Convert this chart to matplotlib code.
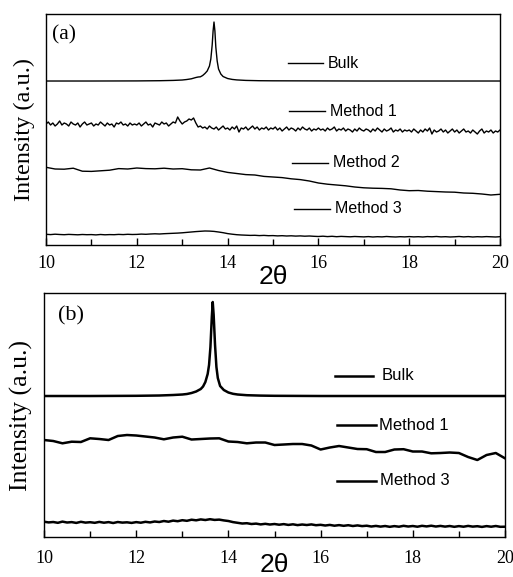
import matplotlib
matplotlib.use("Agg")
import matplotlib.pyplot as plt
import numpy as np

plt.rcParams["font.family"] = "Liberation Serif"

# ---------- panel (a) data (intensity in arbitrary units) ----------
bulk_a_x = [10, 11, 12, 12.5, 12.8, 13.0, 13.1, 13.2, 13.3, 13.35, 13.4, 13.45, 13.5, 13.55,
            13.6, 13.63, 13.66, 13.68, 13.7, 13.72, 13.74, 13.77, 13.8, 13.85, 13.9, 14.0,
            14.1, 14.2, 14.4, 14.7, 15, 16, 17, 18, 19, 20]
bulk_a_y = [164, 164, 164.1, 164.3, 164.6, 165.0, 165.5, 166.2, 167.5, 168.0, 168.2, 169.5,
            171.5, 174, 179, 186, 200, 214, 223, 214, 198, 184, 176, 171, 168.5, 166.5,
            165.6, 165.1, 164.6, 164.3, 164.2, 164.1, 164, 164, 164, 164]

m1_a_x = np.round(np.arange(10, 20.001, 0.05), 2)
m1_a_y = [121, 123, 120, 122, 119, 121, 124, 120, 122, 121, 119, 123, 121, 120, 122, 118, 121, 123, 120, 121,
          122, 119, 121, 120, 123, 121, 119, 122, 120, 121, 118, 122, 121, 123, 120, 121, 119, 122, 120, 121,
          120, 122, 119, 121, 123, 120, 121, 118, 122, 121, 120, 123, 121, 122, 119, 121, 123, 122, 128, 124,
          121, 123, 124, 126, 125, 127, 122, 118, 119, 117, 118, 116, 119, 117, 116, 118, 115, 117, 119, 116,
          117, 115, 118, 116, 119, 113, 117, 116, 118, 115, 117, 119, 116, 118, 115, 117, 116, 118, 115, 117,
          116, 118, 115, 117, 114, 116, 118, 115, 117, 116, 114, 117, 115, 118, 116, 115, 117, 114, 116, 115,
          117, 115, 116, 114, 117, 115, 116, 118, 114, 116, 115, 117, 114, 116, 115, 113, 116, 114, 117, 115,
          114, 116, 115, 113, 116, 114, 117, 115, 113, 116, 114, 115, 117, 113, 115, 114, 116, 113, 115, 114,
          115, 113, 116, 114, 112, 115, 113, 116, 114, 117, 111, 115, 113, 114, 116, 113, 115, 112, 114, 116,
          113, 115, 112, 114, 116, 113, 114, 112, 115, 113, 111, 114, 116, 112, 114, 113, 115, 112, 114, 113,
          115]

m2_a_x = np.round(np.arange(10, 20.001, 0.2), 1)
m2_a_y = [77.7, 76.0, 75.8, 76.8, 73.8, 73.6, 74.2, 74.8, 76.4, 76.0,
          77.0, 76.4, 76.2, 76.8, 76.0, 76.3, 75.2, 75.0, 77.0, 74.5,
          72.6, 71.5, 70.4, 70.0, 68.6, 68.0, 67.4, 66.2, 65.4, 64.0,
          62.0, 60.8, 60.0, 59.2, 58.0, 57.2, 56.8, 56.6, 56.2, 55.0,
          54.3, 54.5, 53.8, 53.4, 53.0, 52.8, 52.0, 51.7, 51.0, 50.0,
          50.7]

m3_a_x = np.round(np.arange(10, 20.001, 0.1), 1)
m3_a_y = [10.7, 10.4, 10.8, 10.5, 10.3, 10.6, 10.4, 10.2, 10.5, 10.3,
          10.4, 10.1, 10.5, 10.2, 10.4, 10.3, 10.6, 10.4, 10.7, 10.5,
          10.6, 10.9, 10.7, 11.0, 11.2, 11.0, 11.3, 11.5, 11.7, 11.9,
          12.2, 12.6, 13.0, 13.4, 13.7, 14.0, 13.9, 13.6, 13.0, 12.3,
          11.4, 10.8, 10.3, 10.0, 9.8, 9.6, 9.7, 9.4, 9.6, 9.3,
          9.4, 9.1, 9.3, 9.0, 9.2, 8.9, 9.1, 8.8, 9.0, 8.7,
          8.5, 8.8, 8.4, 8.7, 8.3, 8.6, 8.4, 8.2, 8.5, 8.3,
          8.1, 8.4, 8.0, 8.3, 8.1, 8.5, 8.2, 8.0, 8.3, 8.1,
          8.4, 8.1, 8.3, 8.0, 8.4, 8.2, 8.5, 8.1, 8.3, 8.0,
          8.2, 8.5, 8.1, 8.4, 8.0, 8.3, 8.1, 8.4, 8.2, 8.0,
          8.3]

# ---------- panel (b) data ----------
bulk_b_x = [10, 11, 12, 12.5, 12.8, 13.0, 13.1, 13.2, 13.3, 13.4, 13.45, 13.5, 13.55, 13.58,
            13.61, 13.64, 13.66, 13.68, 13.71, 13.74, 13.77, 13.82, 13.9, 14.0, 14.1, 14.2,
            14.4, 14.7, 15, 16, 17, 18, 19, 20]
bulk_b_y = [141, 141, 141.2, 141.5, 142, 142.5, 143, 144, 145.5, 148, 150.5, 155, 163, 172,
            190, 220, 235, 222, 192, 170, 159, 151, 147, 144.5, 143.2, 142.5,
            141.8, 141.4, 141.2, 141, 141, 141, 141, 141]

m1_b_x = np.round(np.arange(10, 20.001, 0.2), 1)
m1_b_y = [97, 96, 93.7, 95.3, 95, 98.7, 98, 97, 101, 102,
          101.5, 100.5, 99.5, 97.7, 99.5, 100.3, 97.5, 98, 98.5, 98.7,
          95.5, 95, 93.7, 94.5, 94.5, 92, 92.5, 93, 93, 91.5,
          87.5, 89.5, 91, 89.5, 88, 87.8, 85, 85, 87.5, 87.8,
          85.5, 85.5, 83.7, 84, 84.5, 84, 80, 77, 82, 84,
          78.7]

m3_b_x = np.round(np.arange(10, 20.001, 0.1), 1)
m3_b_y = [15.3, 14.6, 15.0, 14.2, 15.4, 14.5, 14.9, 14.1, 15.2, 14.4,
          14.8, 14.2, 15.1, 14.3, 14.9, 14.0, 15.0, 14.4, 14.7, 14.1,
          14.9, 14.3, 15.2, 14.6, 15.5, 15.0, 16.0, 15.3, 16.4, 15.8,
          16.8, 16.2, 17.3, 16.7, 17.6, 17.0, 17.8, 17.1, 17.4, 16.6,
          16.0, 14.9, 14.2, 13.5, 13.8, 13.0, 13.4, 12.6, 13.2, 12.5,
          13.0, 12.3, 12.9, 12.1, 12.7, 11.9, 12.5, 12.0, 12.6, 11.8,
          12.2, 11.5, 12.1, 11.3, 11.9, 11.2, 11.8, 11.0, 11.6, 10.9,
          11.3, 10.5, 11.1, 10.4, 11.0, 10.2, 10.9, 10.3, 11.2, 10.5,
          11.0, 10.3, 11.2, 10.6, 11.3, 10.5, 11.1, 10.4, 11.0, 10.2,
          10.9, 10.3, 11.1, 10.4, 10.8, 10.1, 10.9, 10.3, 11.0, 10.2,
          10.3]

labels_a = ["Bulk", "Method 1", "Method 2", "Method 3"]
labels_b = ["Bulk", "Method 1", "Method 3"]

fig = plt.figure(figsize=(5.13, 5.77), dpi=100)
ax_a = fig.add_axes([0.0897, 0.5754, 0.885, 0.4003])
ax_b = fig.add_axes([0.0858, 0.0693, 0.8986, 0.4229])

# panel (a)
lw_a = 1.0
ax_a.plot(bulk_a_x, bulk_a_y, color="black", lw=lw_a)
ax_a.plot(m1_a_x, m1_a_y, color="black", lw=lw_a)
ax_a.plot(m2_a_x, m2_a_y, color="black", lw=lw_a)
ax_a.plot(m3_a_x, m3_a_y, color="black", lw=lw_a)
ax_a.set_ylim(0, 231)

# key lines + names, panel (a)
key_a = [(0.533, 0.610, 0.787, 0.621), (0.535, 0.615, 0.580, 0.626),
         (0.542, 0.621, 0.355, 0.632), (0.546, 0.626, 0.156, 0.637)]
for (x0, x1, y, tx), name in zip(key_a, labels_a):
    ax_a.plot([x0, x1], [y, y], color="black", lw=1.0, transform=ax_a.transAxes)
    ax_a.text(tx, y, name, transform=ax_a.transAxes, ha="left", va="center",
              family="Liberation Sans", fontsize=11.5)
ax_a.text(0.013, 0.909, "(a)", transform=ax_a.transAxes, ha="left", va="center", fontsize=15.5)

# panel (b)
lw_b = 1.8
ax_b.plot(bulk_b_x, bulk_b_y, color="black", lw=lw_b)
ax_b.plot(m1_b_x, m1_b_y, color="black", lw=lw_b)
ax_b.plot(m3_b_x, m3_b_y, color="black", lw=lw_b)
ax_b.set_ylim(0, 244)

key_b = [(0.631, 0.714, 0.660, 0.733), (0.636, 0.720, 0.459, 0.727),
         (0.636, 0.720, 0.230, 0.729)]
for (x0, x1, y, tx), name in zip(key_b, labels_b):
    ax_b.plot([x0, x1], [y, y], color="black", lw=1.8, transform=ax_b.transAxes)
    ax_b.text(tx, y, name, transform=ax_b.transAxes, ha="left", va="center",
              family="Liberation Sans", fontsize=12)
ax_b.text(0.030, 0.906, "(b)", transform=ax_b.transAxes, ha="left", va="center", fontsize=16)

settings = [(ax_a, 17.5, 7, -0.024, -0.085), (ax_b, 18.5, 9, -0.024, -0.064)]
for ax, ysize, tpad, ylab_x, xlab_y in settings:
    ax.set_xlim(10, 20)
    ax.set_xticks([10, 12, 14, 16, 18, 20])
    ax.set_xticks([11, 13, 15, 17, 19], minor=True)
    ax.set_yticks([])
    ax.tick_params(axis="x", which="both", direction="in", labelsize=13, pad=tpad, width=1.0)
    ax.tick_params(axis="x", which="major", length=5)
    ax.tick_params(axis="x", which="minor", length=4)
    for sp in ax.spines.values():
        sp.set_linewidth(1.0)
    ax.set_xlabel("2θ", family="Liberation Sans", fontsize=19, va="top")
    ax.xaxis.set_label_coords(0.5, xlab_y)
    ax.set_ylabel("Intensity (a.u.)", fontsize=ysize)
    ax.yaxis.set_label_coords(ylab_x, 0.5)

fig.savefig("out.png", dpi=100)
